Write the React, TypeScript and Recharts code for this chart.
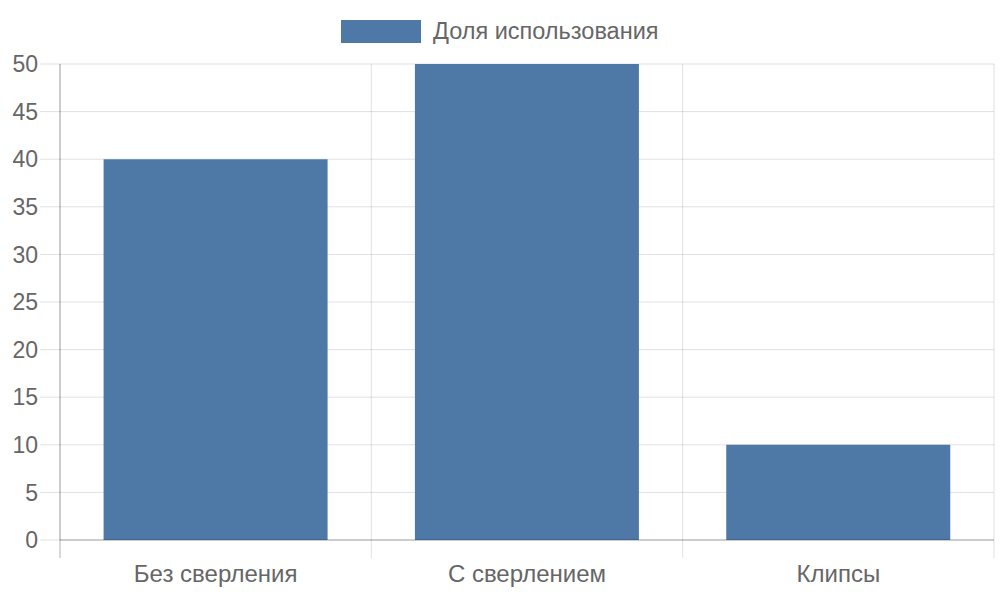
import { Bar, BarChart, CartesianGrid, XAxis, YAxis } from "recharts";

const categories = ["Без сверления", "С сверлением", "Клипсы"];
const shares = [40, 50, 10];
const yTicks = [0, 5, 10, 15, 20, 25, 30, 35, 40, 45, 50];
const seriesName = "Доля использования";

const data = categories.map((name, i) => ({ name, share: shares[i] }));

const BLUE = "#4e79a7";
const GRID = "rgba(0,0,0,0.12)";
const AXIS = "rgba(0,0,0,0.3)";
const TEXT = "#666666";
const FONT = "'Liberation Sans', Arial, sans-serif";

function CategoryTick(props: any) {
  const { x, y, payload, index } = props;
  const half = payload.offset ?? 0;
  const isLast = index === categories.length - 1;
  return (
    <g>
      <line x1={x - half} x2={x - half} y1={y - 22} y2={y - 4} stroke={index === 0 ? AXIS : GRID} />
      {isLast && <line x1={x + half} x2={x + half} y1={y - 22} y2={y - 4} stroke={GRID} />}
      <text x={x} y={y} dy={20} textAnchor="middle" fill={TEXT} fontSize={24} fontFamily={FONT}>
        {payload.value}
      </text>
    </g>
  );
}

export default function App() {
  return (
    <div style={{ position: "absolute", left: 0, top: 0, width: 1000, height: 600, background: "#fff", fontFamily: FONT }}>
      <div
        style={{
          position: "absolute",
          top: 20,
          left: 341,
          display: "flex",
          alignItems: "center",
          height: 23,
          color: TEXT,
          fontSize: 23.5,
        }}
      >
        <span style={{ display: "inline-block", width: 80, height: 23, background: BLUE, marginRight: 12 }} />
        <span>{seriesName}</span>
      </div>
      <BarChart
        width={1000}
        height={600}
        data={data}
        margin={{ top: 64, right: 6, left: 0, bottom: 0 }}
        barCategoryGap="14%"
      >
        <CartesianGrid
          stroke={GRID}
          verticalCoordinatesGenerator={({ offset }: any) =>
            categories.map((_, i) => offset.left + (offset.width * i) / categories.length).concat(offset.left + offset.width)
          }
        />
        <XAxis
          dataKey="name"
          height={60}
          axisLine={{ stroke: AXIS }}
          tickLine={false}
          tickSize={18}
          tickMargin={4}
          tick={<CategoryTick />}
          interval={0}
        />
        <YAxis
          width={60}
          domain={[0, 50]}
          ticks={yTicks}
          interval={0}
          axisLine={{ stroke: AXIS }}
          tickLine={{ stroke: GRID }}
          tickSize={20}
          tickMargin={2}
          tick={{ fill: TEXT, fontSize: 23, fontFamily: FONT }}
        />
        <Bar dataKey="share" name={seriesName} fill={BLUE} isAnimationActive={false} />
      </BarChart>
    </div>
  );
}
